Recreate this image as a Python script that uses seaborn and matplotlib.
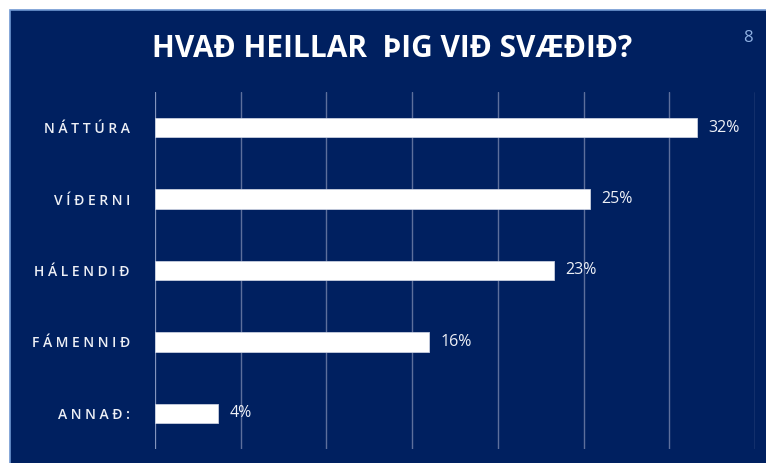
import matplotlib
matplotlib.use("Agg")
import matplotlib.pyplot as plt
import seaborn as sns
import numpy as np
from matplotlib.patches import Rectangle

# gögn / data
flokkar = ["NÁTTÚRA", "VÍÐERNI", "HÁLENDIÐ", "FÁMENNIÐ", "ANNAÐ:"]
hlutfall = [0.316, 0.254, 0.233, 0.160, 0.037]
merki = ["32%", "25%", "23%", "16%", "4%"]
titill = "HVAÐ HEILLAR  ÞIG VIÐ SVÆÐIÐ?"
blaðsíða = "8"

NAVY = "#002060"

sns.set_style("white")
plt.rcParams["font.family"] = ["Open Sans", "DejaVu Sans"]

fig = plt.figure(figsize=(7.66, 4.63), dpi=100)
fig.patch.set_facecolor("white")

# dökkblár bakgrunnur með ljósum ramma (efst og vinstra megin)
fig.patches.append(Rectangle((9.5 / 766, -0.1), 1.2, 1.1 - 10.5 / 463, transform=fig.transFigure,
                             facecolor=NAVY, edgecolor="#6f97d2", linewidth=1.2, zorder=-1))

ax = fig.add_axes([155 / 766, 14 / 463, 600 / 766, 357 / 463])
ax.set_facecolor("none")

# letter-spaced labels
bil_flokkar = [" ".join(list(f)) for f in flokkar]

sns.barplot(x=hlutfall, y=bil_flokkar, color="white", saturation=1, width=0.27,
            edgecolor="#c8cfe0", linewidth=0.6, ax=ax, zorder=3)

ax.set_xlim(0, 0.35)
ax.set_xticks(np.arange(0, 0.351, 0.05))
ax.set_xticklabels([])
ax.tick_params(axis="x", length=0)
ax.tick_params(axis="y", length=0, pad=18, labelsize=10, labelcolor="#eef0f6")
for lbl in ax.get_yticklabels():
    lbl.set_fontweight("semibold")
ax.grid(axis="x", color="#5d6f9c", linewidth=1.0, zorder=0)
ax.grid(axis="y", visible=False)
for s in ax.spines.values():
    s.set_visible(False)
ax.axvline(0, color="#8a9cc4", linewidth=1.2, zorder=2)
ax.set_xlabel("")
ax.set_ylabel("")

for i, (v, m) in enumerate(zip(hlutfall, merki)):
    ax.text(v + 0.0065, i, m, va="center", ha="left", fontsize=11.5, color="#eef0f6")

fig.text(392 / 766, 1 - 49 / 463, titill, ha="center", va="center", fontsize=21.5,
         fontweight="bold", color="white")
fig.text(748 / 766, 1 - 38 / 463, blaðsíða, ha="center", va="center", fontsize=12,
         color="#8fb1e3")

fig.savefig("out.png", dpi=100, facecolor=fig.get_facecolor())
